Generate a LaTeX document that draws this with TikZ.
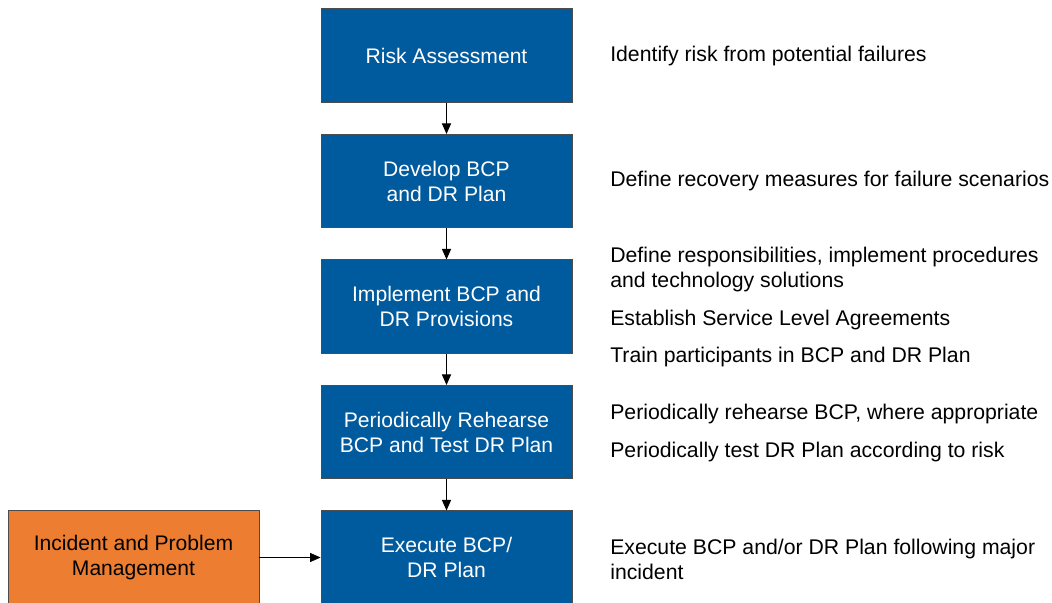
\documentclass[tikz,border=0pt]{standalone}
\usepackage{fontspec}
\setmainfont{Liberation Sans}
\usepackage{xcolor}
\usetikzlibrary{arrows.meta,positioning}
\definecolor{stepblue}{RGB}{0,90,158}
\definecolor{incorange}{RGB}{237,125,49}

\begin{document}
\begin{tikzpicture}[x=0.025cm,y=-0.025cm,>={Triangle[length=7.5pt,width=6.5pt]},
 b/.style={draw=black!70,line width=.6pt,fill=stepblue,text=white,align=center,minimum width=6.275cm,minimum height=2.33cm,font=\fontsize{15}{17.8}\selectfont},
 o/.style={b,fill=incorange,text=black},
 a/.style={->,line width=.6pt},t/.style={anchor=west,inner sep=0pt,align=left,font=\fontsize{15.1}{17.8}\selectfont}]
 \useasboundingbox (0,0) rectangle (1052,603);
 \node[b] (risk) at (446.5,55.5) {Risk Assessment};
 \node[b] (develop) at (446.5,181) {Develop BCP\\and DR Plan};
 \node[b] (implement) at (446.5,306.5) {Implement BCP and\\DR Provisions};
 \node[b] (rehearse) at (446.5,432) {Periodically Rehearse\\BCP and Test DR Plan};
 \node[b] (execute) at (446.5,557.5) {Execute BCP/\\DR Plan};
 \node[o] (incident) at (133.5,557.5) {Incident and Problem\\Management};
 \draw[a] (risk)--(develop);
 \draw[a] (develop)--(implement);
 \draw[a] (implement)--(rehearse);
 \draw[a] (rehearse)--(execute);
 \draw[a] (incident)--(execute);
 % descriptions on the right
 \node[t] (identify) at (610,56) {Identify risk from potential failures};
 \node[t] (recovery) at (610,181) {Define recovery measures for failure scenarios};
 \node[t] (respons) at (610,269.5) {Define responsibilities, implement procedures\\and technology solutions};
 \node[t] (sla) at (610,320) {Establish Service Level Agreements};
 \node[t] (train) at (610,357) {Train participants in BCP and DR Plan};
 \node[t] (rehearsebcp) at (610,414) {Periodically rehearse BCP, where appropriate};
 \node[t] (testdr) at (610,452) {Periodically test DR Plan according to risk};
 \node[t] (major) at (610,559.5) {Execute BCP and/or DR Plan following major\\incident};
\end{tikzpicture}
\end{document}
